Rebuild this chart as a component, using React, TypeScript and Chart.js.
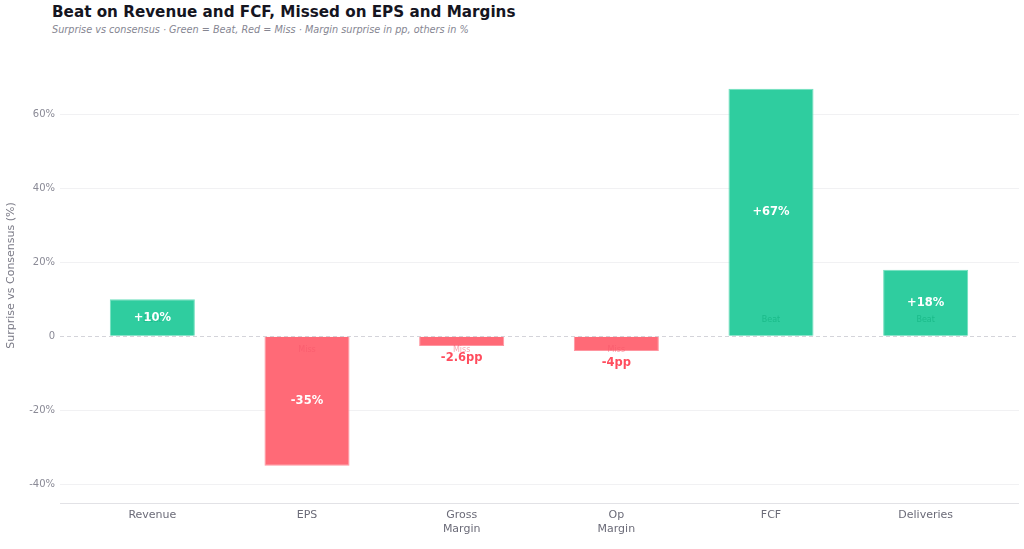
import React, { useEffect, useRef } from "react";
import { Chart, registerables } from "chart.js";

Chart.register(...registerables);

const categories: (string | string[])[] = ["Revenue", "EPS", ["Gross", "Margin"], ["Op", "Margin"], "FCF", "Deliveries"];
const surprises: number[] = [10, -35, -2.6, -4, 67, 18];
const units: string[] = ["%", "%", "pp", "pp", "%", "%"];
const yTicks: number[] = [-40, -20, 0, 20, 40, 60];

const Y_MIN = -45.1;
const Y_MAX = 78;

const GREEN = "#2fcd9f";
const RED = "#ff6a77";

const fmt = (v: number, u: string) => `${v > 0 ? "+" : ""}${v}${u}`;

const tickBuilder = (scale: any) => {
  scale.ticks = [Y_MIN, ...yTicks].map((v) => ({ value: v }));
};

const gridColor = (ctx: any) => {
  const v = ctx.tick?.value;
  if (v === 0) return "rgba(0,0,0,0)";
  if (v === Y_MIN) return "#e2e2e6";
  return "#f1f1f3";
};

const labelPlugin = {
  id: "barLabels",
  beforeDatasetsDraw(chart: any) {
    const { ctx, chartArea, scales } = chart;
    const y0 = Math.round(scales.y.getPixelForValue(0));
    ctx.save();
    ctx.strokeStyle = "#d4d4da";
    ctx.lineWidth = 1;
    ctx.setLineDash([4, 3]);
    ctx.beginPath();
    ctx.moveTo(chartArea.left - 15, y0 + 0.5);
    ctx.lineTo(chartArea.right + 16, y0 + 0.5);
    ctx.stroke();
    ctx.restore();
  },
  afterDatasetsDraw(chart: any) {
    const { ctx, scales } = chart;
    const meta = chart.getDatasetMeta(0);
    const y0 = scales.y.getPixelForValue(0);
    ctx.save();
    ctx.textAlign = "center";
    ctx.textBaseline = "middle";
    meta.data.forEach((bar: any, i: number) => {
      const v = surprises[i];
      const beat = v >= 0;
      ctx.font = "8px 'DejaVu Sans'";
      ctx.fillStyle = beat ? "rgba(24,185,135,0.9)" : "rgba(245,85,105,0.55)";
      ctx.fillText(beat ? "Beat" : "Miss", bar.x, beat ? y0 - 16 : y0 + 14);
      ctx.font = "bold 11.5px 'DejaVu Sans'";
      if (Math.abs(v) >= 5) {
        ctx.fillStyle = "#ffffff";
        ctx.fillText(fmt(v, units[i]), bar.x, (bar.y + bar.base) / 2);
      } else {
        ctx.fillStyle = "#ff4d5e";
        ctx.fillText(fmt(v, units[i]), bar.x, bar.y + 12);
      }
    });
    ctx.restore();
  },
};

const App: React.FC = () => {
  const chartRef = useRef<HTMLCanvasElement>(null);
  const chartInstance = useRef<Chart | null>(null);

  useEffect(() => {
    document.body.style.margin = "0";
    if (!chartRef.current) return;
    if (chartInstance.current) chartInstance.current.destroy();
    const ctx = chartRef.current.getContext("2d");
    if (!ctx) return;

    chartInstance.current = new Chart(ctx, {
      type: "bar",
      data: {
        labels: categories,
        datasets: [
          {
            data: surprises,
            backgroundColor: surprises.map((v) => (v >= 0 ? GREEN : RED)),
            borderColor: surprises.map((v) => (v >= 0 ? "#6fdfbd" : "#ff95a0")),
            borderWidth: 1,
            barPercentage: 0.55,
            categoryPercentage: 1,
          },
        ],
      },
      options: {
        animation: false,
        responsive: true,
        maintainAspectRatio: false,
        layout: { padding: { top: 48, right: 5, bottom: 0, left: 0 } },
        plugins: {
          legend: { display: false },
          tooltip: { enabled: false },
        },
        scales: {
          x: {
            grid: { display: false, drawTicks: false },
            border: { display: false },
            ticks: {
              padding: 6,
              color: "#6b6b78",
              font: { family: "'DejaVu Sans'", size: 11 },
              maxRotation: 0,
              autoSkip: false,
            },
            afterFit: (scale: any) => {
              scale.height = 46;
            },
          },
          y: {
            min: Y_MIN,
            max: Y_MAX,
            afterBuildTicks: tickBuilder,
            grid: { color: gridColor, tickLength: 15, tickColor: gridColor },
            border: { display: false },
            ticks: {
              padding: 5,
              color: "#8a8a96",
              font: { family: "'DejaVu Sans'", size: 10 },
              callback: (v: any) => (v === Y_MIN ? "" : v === 0 ? "0" : `${v}%`),
            },
            title: {
              display: true,
              text: "Surprise vs Consensus (%)",
              color: "#7a7a86",
              font: { family: "'DejaVu Sans'", size: 11 },
              padding: { top: 5, bottom: 0 },
            },
            afterFit: (scale: any) => {
              scale.width = 75;
            },
          },
          y2: {
            position: "right",
            min: Y_MIN,
            max: Y_MAX,
            afterBuildTicks: tickBuilder,
            grid: { drawOnChartArea: false, tickLength: 16, tickColor: gridColor },
            border: { display: false },
            ticks: { display: false },
          },
        },
      },
      plugins: [labelPlugin],
    });

    return () => {
      if (chartInstance.current) chartInstance.current.destroy();
    };
  }, []);

  return (
    <div style={{ position: "relative", width: 1024, height: 549, background: "#fff" }}>
      <div
        style={{
          position: "absolute",
          left: 52,
          top: 3,
          fontFamily: "'DejaVu Sans'",
          fontWeight: "bold",
          fontSize: 15.2,
          color: "#15151f",
          whiteSpace: "nowrap",
        }}
      >
        Beat on Revenue and FCF, Missed on EPS and Margins
      </div>
      <div
        style={{
          position: "absolute",
          left: 52,
          top: 24,
          fontFamily: "'DejaVu Sans'",
          fontStyle: "italic",
          fontSize: 9.7,
          color: "#868692",
          whiteSpace: "nowrap",
        }}
      >
        Surprise vs consensus · Green = Beat, Red = Miss · Margin surprise in pp, others in %
      </div>
      <div style={{ position: "absolute", left: 0, top: 0, width: 1024, height: 549 }}>
        <canvas ref={chartRef} />
      </div>
    </div>
  );
};

export default App;
